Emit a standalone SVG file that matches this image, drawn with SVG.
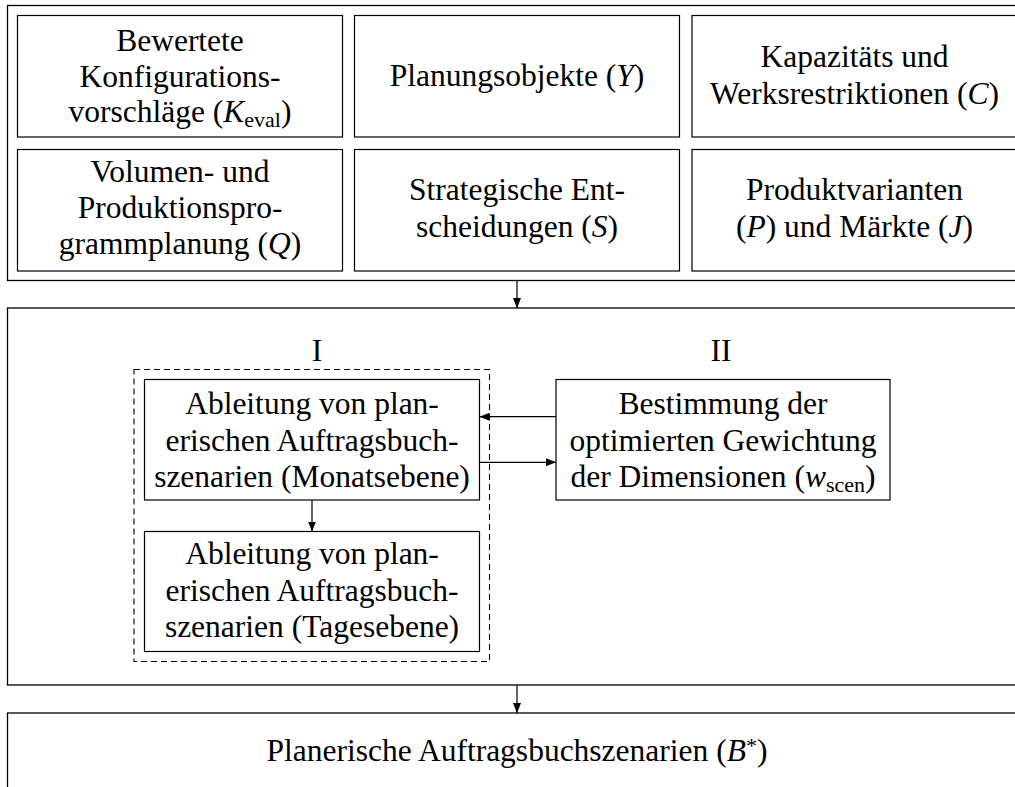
<svg xmlns="http://www.w3.org/2000/svg" width="1015" height="787" viewBox="0 0 1015 787">
  <style>
    .frame { fill: #ffffff; stroke: #000000; stroke-width: 1.3; }
    .box { fill: #ffffff; stroke: #000000; stroke-width: 1.2; }
    .dashed { fill: none; stroke: #000000; stroke-width: 1.1; stroke-dasharray: 6 4; }
    .lbl { font-family: "Liberation Serif", "Times New Roman", serif; font-size: 31.5px; fill: #000000; text-anchor: middle; }
    .m { font-style: italic; }
    .sub { font-size: 22px; }
    .conn { fill: none; stroke: #000000; stroke-width: 1.2; }
  </style>
  <defs>
    <marker id="tip" markerUnits="userSpaceOnUse" markerWidth="11" markerHeight="9" refX="10" refY="4.5" orient="auto">
      <path d="M0,0.5 L10,4.5 L0,8.5 Z" fill="#000000"/>
    </marker>
  </defs>
  <rect width="1015" height="787" fill="#ffffff"/>

  <!-- input frame with six source boxes -->
  <g id="inputs">
    <rect class="frame" x="7.5" y="5.5" width="1020" height="275"/>
  </g>
  <g id="n-keval">
    <rect class="box" x="17.5" y="15.5" width="325" height="121.5"/>
    <text class="lbl" x="180" y="51">Bewertete</text>
    <text class="lbl" x="180" y="86.5">Konfigurations-</text>
    <text class="lbl" x="180" y="122">vorschläge (<tspan class="m">K</tspan><tspan class="sub" dy="5">eval</tspan><tspan dy="-5">)</tspan></text>
  </g>
  <g id="n-upsilon">
    <rect class="box" x="354.5" y="15.5" width="325" height="121.5"/>
    <text class="lbl" x="517" y="86">Planungsobjekte (<tspan class="m">Υ</tspan>)</text>
  </g>
  <g id="n-c">
    <rect class="box" x="692" y="15.5" width="325" height="121.5"/>
    <text class="lbl" x="854.5" y="67">Kapazitäts und</text>
    <text class="lbl" x="854.5" y="103.5">Werksrestriktionen (<tspan class="m">C</tspan>)</text>
  </g>
  <g id="n-q">
    <rect class="box" x="17.5" y="149.5" width="325" height="121.5"/>
    <text class="lbl" x="180" y="181.75">Volumen- und</text>
    <text class="lbl" x="180" y="217.75">Produktionspro-</text>
    <text class="lbl" x="180" y="253.75">grammplanung (<tspan class="m">Q</tspan>)</text>
  </g>
  <g id="n-s">
    <rect class="box" x="354.5" y="149.5" width="325" height="121.5"/>
    <text class="lbl" x="517" y="200">Strategische Ent-</text>
    <text class="lbl" x="517" y="236.5">scheidungen (<tspan class="m">S</tspan>)</text>
  </g>
  <g id="n-pj">
    <rect class="box" x="692" y="149.5" width="325" height="121.5"/>
    <text class="lbl" x="854.5" y="200">Produktvarianten</text>
    <text class="lbl" x="854.5" y="236.5">(<tspan class="m">P</tspan>) und Märkte (<tspan class="m">J</tspan>)</text>
  </g>

  <!-- processing frame -->
  <g id="process">
    <rect class="frame" x="7.5" y="308" width="1020" height="377"/>
    <text class="lbl" x="317" y="361">I</text>
    <text class="lbl" x="721" y="361">II</text>
    <rect class="dashed" x="134" y="369.5" width="355.5" height="292"/>
  </g>
  <g id="n-monat">
    <rect class="box" x="144.5" y="379.5" width="335" height="120.5"/>
    <text class="lbl" x="312" y="414">Ableitung von plan-</text>
    <text class="lbl" x="312" y="450.5">erischen Auftragsbuch-</text>
    <text class="lbl" x="312" y="486.5">szenarien (Monatsebene)</text>
  </g>
  <g id="n-tage">
    <rect class="box" x="144.5" y="531.5" width="335" height="120"/>
    <text class="lbl" x="312" y="564">Ableitung von plan-</text>
    <text class="lbl" x="312" y="600.5">erischen Auftragsbuch-</text>
    <text class="lbl" x="312" y="636.5">szenarien (Tagesebene)</text>
  </g>
  <g id="n-weights">
    <rect class="box" x="556" y="379.5" width="334" height="120.5"/>
    <text class="lbl" x="723" y="414">Bestimmung der</text>
    <text class="lbl" x="723" y="450.5">optimierten Gewichtung</text>
    <text class="lbl" x="723" y="486.5">der Dimensionen (<tspan class="m">w</tspan><tspan class="sub" dy="5">scen</tspan><tspan dy="-5">)</tspan></text>
  </g>

  <!-- result -->
  <g id="n-result">
    <rect class="frame" x="7.5" y="713" width="1020" height="100"/>
    <text class="lbl" x="517" y="761">Planerische Auftragsbuchszenarien (<tspan class="m">B</tspan><tspan class="sub" dy="-8">*</tspan><tspan dy="8">)</tspan></text>
  </g>

  <!-- connectors -->
  <g id="connectors">
    <path class="conn" d="M517,280.5 V308" marker-end="url(#tip)"/>
    <path class="conn" d="M517,685 V713" marker-end="url(#tip)"/>
    <path class="conn" d="M312,500 V531.5" marker-end="url(#tip)"/>
    <path class="conn" d="M556,416.7 H479.5" marker-end="url(#tip)"/>
    <path class="conn" d="M479.5,462.3 H556" marker-end="url(#tip)"/>
  </g>
</svg>
